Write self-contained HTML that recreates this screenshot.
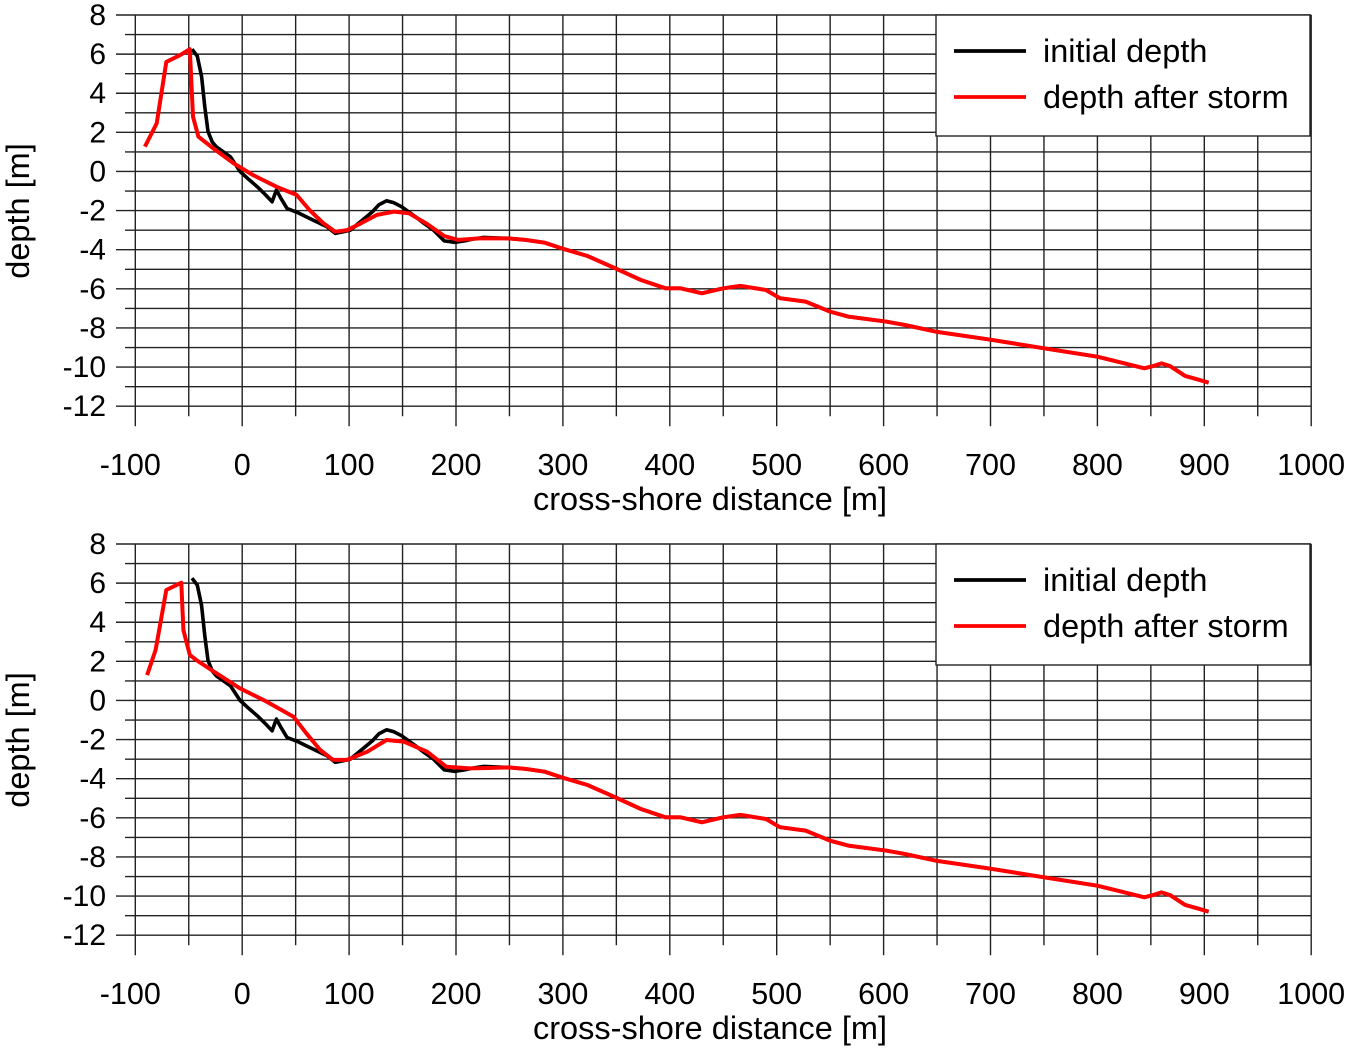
<!DOCTYPE html>
<html><head><meta charset="utf-8"><style>
html,body{margin:0;padding:0;background:#fff;}
svg{display:block;font-family:"Liberation Sans",Arial,sans-serif;}
</style></head><body>
<svg id="chart" width="1350" height="1049" viewBox="0 0 1350 1049" xmlns="http://www.w3.org/2000/svg"></svg>
<script>
const xTicks = [-100,0,100,200,300,400,500,600,700,800,900,1000];
const yTicks = [8,6,4,2,0,-2,-4,-6,-8,-10,-12];
const seriesNames = ["initial depth","depth after storm"];
const initialX = [-47,-42,-38,-35,-32,-28,-24,-11,-2,6,14,22,28,32,36,42,52,63,79,87,93,101,110,122,128,135,142,149,162,170,179,189,199,208,216,226];
const initialY = [6.25,5.9,4.85,3.3,2.05,1.5,1.25,0.75,0,-0.4,-0.78,-1.2,-1.55,-0.95,-1.35,-1.9,-2.1,-2.4,-2.82,-3.16,-3.1,-3.0,-2.6,-2.05,-1.7,-1.5,-1.6,-1.8,-2.31,-2.65,-3.0,-3.55,-3.62,-3.55,-3.45,-3.37];
const tailX = [249,265,283,299,323,349,373,396,410,430,450,466,490,503,527,550,567,603,620,650,700,750,800,844,852,860,868,882,895,904];
const tailY = [-3.42,-3.5,-3.64,-3.93,-4.32,-4.95,-5.55,-5.97,-5.97,-6.23,-5.97,-5.85,-6.06,-6.48,-6.65,-7.17,-7.42,-7.68,-7.85,-8.2,-8.6,-9.04,-9.47,-10.06,-9.95,-9.81,-9.95,-10.45,-10.65,-10.8];
const stormTopX = [-91,-80,-71,-58,-49,-46,-41,-27,-8,10,32,51,63,76,87,98,110,126,142,156,172,189,202,222];
const stormTopY = [1.27,2.46,5.6,5.95,6.25,2.8,1.78,1.18,0.42,-0.18,-0.78,-1.2,-1.97,-2.65,-3.08,-3.0,-2.68,-2.22,-2.05,-2.14,-2.65,-3.3,-3.5,-3.42];
const stormBottomX = [-89,-81,-71,-57,-55,-49,-43,-24,-2,23,48,60,73,85,98,117,135,151,173,191,213,230];
const stormBottomY = [1.3,2.58,5.65,6.02,3.6,2.33,2.07,1.39,0.62,-0.06,-0.83,-1.68,-2.53,-3.04,-3.04,-2.62,-2.02,-2.1,-2.62,-3.39,-3.47,-3.45];

const NS="http://www.w3.org/2000/svg";
const svg=document.getElementById('chart');
function mk(tag,attrs,parent){const e=document.createElementNS(NS,tag);for(const k in attrs)e.setAttribute(k,attrs[k]);(parent||svg).appendChild(e);return e;}
const X0=135.3, PX=1.069;
function xs(v){return X0+(v+100)*PX;}
function panel(top,stormX,stormY,idx){
  const g=mk('g',{});
  
  
  const U=19.56;
  const ys=v=>top+(8-v)*U;
  const bottom=ys(-12);
  for(let v=8;v>=-12;v--){
    const major=(v%2===0);
    const l=mk('line',{x1:major?116:125,x2:xs(1000),y1:ys(v),y2:ys(v),stroke:'#222','stroke-width':1.4},g);
    
    
  }
  for(let v=-100;v<=1000;v+=50){
    const major=(v%100===0);
    const l=mk('line',{x1:xs(v),x2:xs(v),y1:top,y2:bottom+(major?20:10),stroke:'#222','stroke-width':1.4},g);
    
    
  }
  yTicks.forEach(v=>{
    const t=mk('text',{x:106,y:ys(v)+10,'text-anchor':'end','font-size':30,fill:'#000'},g);
    t.textContent=v;
    
    
  });
  xTicks.forEach(v=>{
    const t=mk('text',{x:xs(v)+(v<0?-5:0),y:bottom+69,'text-anchor':'middle','font-size':30.5,fill:'#000'},g);
    t.textContent=v;
    
    
  });
  const xt=mk('text',{x:710,y:bottom+104,'text-anchor':'middle','font-size':32.5,fill:'#000'},g);
  xt.textContent='cross-shore distance [m]';
  
  
  const yc=top+196;
  const yt=mk('text',{x:29,y:yc,'text-anchor':'middle','font-size':32.5,fill:'#000',transform:'rotate(-90 29 '+yc+')'},g);
  yt.textContent='depth [m]';
  
  
  const pts=(ax,ay)=>ax.map((x,i)=>xs(x).toFixed(1)+','+ys(ay[i]).toFixed(1)).join(' ');
  const bl=mk('polyline',{points:pts(initialX.concat(tailX),initialY.concat(tailY)),fill:'none',stroke:'#000','stroke-width':3.6,'stroke-linejoin':'round'},g);
  
  
  const rl=mk('polyline',{points:pts(stormX.concat(tailX),stormY.concat(tailY)),fill:'none',stroke:'#f00','stroke-width':4,'stroke-linejoin':'round'},g);
  
  
  const lg=mk('g',{},g);
  
  
  mk('rect',{x:936,y:top,width:374,height:121,fill:'#fff',stroke:'#222','stroke-width':1.4},lg);
  const cols=['#000','#f00'];
  seriesNames.forEach((n,i)=>{
    const y=top+36+i*46;
    const ln=mk('line',{x1:954,x2:1026,y1:y,y2:y,stroke:cols[i],'stroke-width':3.8},lg);
    
    
    const t=mk('text',{x:1043,y:y+11,'font-size':32.5,fill:'#000'},lg);
    t.textContent=n;
    
    
  });
}
panel(15,stormTopX,stormTopY,1);
panel(544,stormBottomX,stormBottomY,2);
</script>
</body></html>
